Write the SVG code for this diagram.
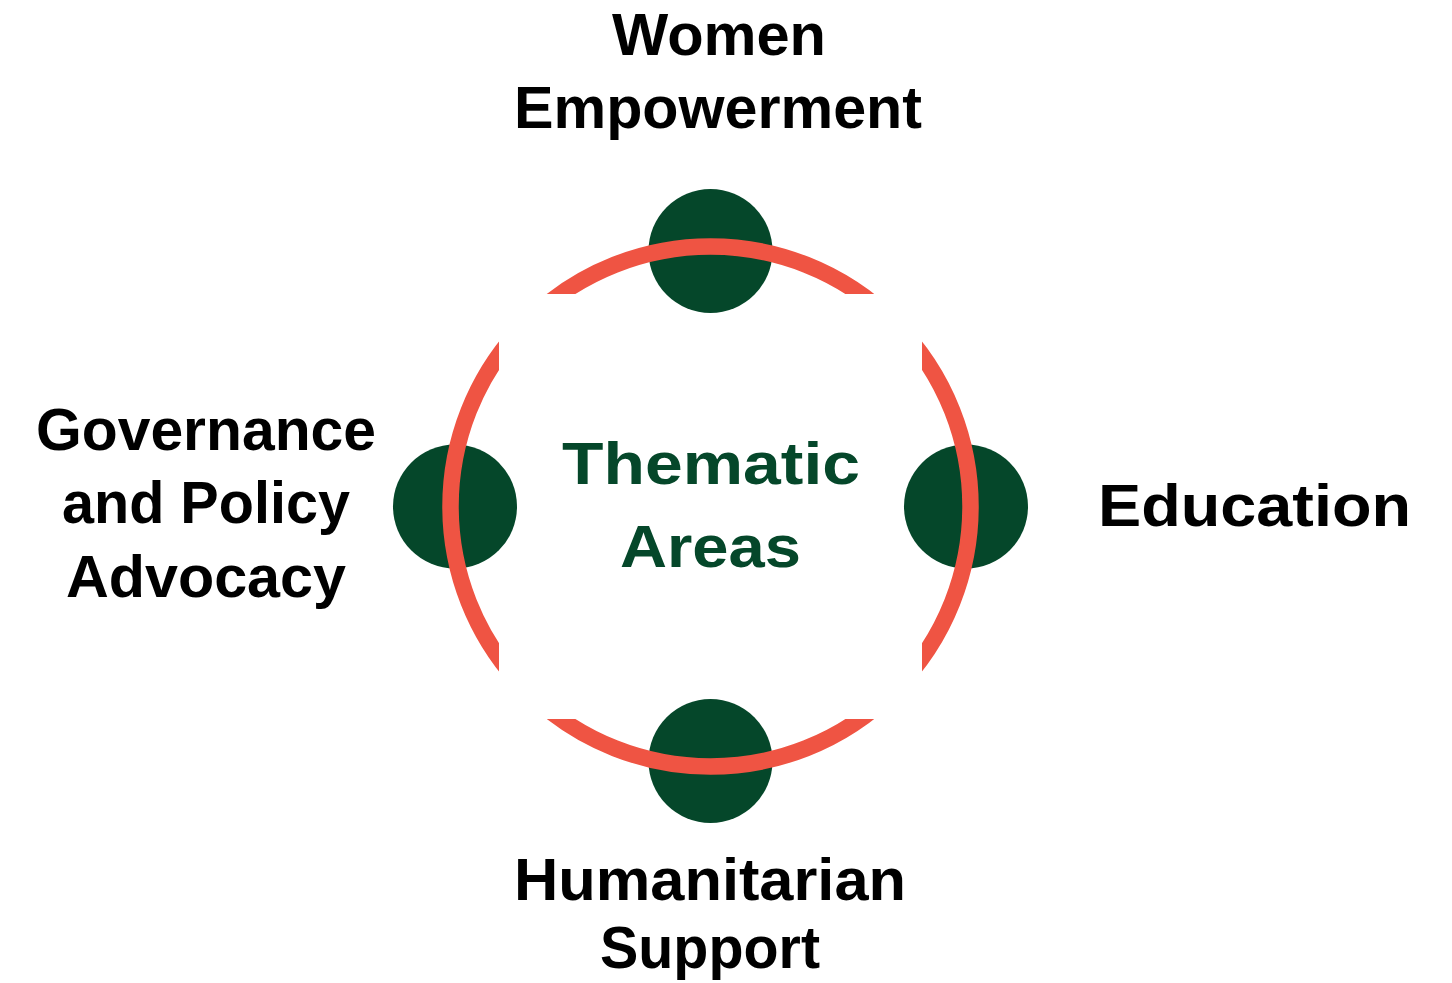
<svg xmlns="http://www.w3.org/2000/svg" width="1452" height="983" viewBox="0 0 1452 983">
  <style>
    .lbl { font-family: "Liberation Sans", Arial, sans-serif; font-weight: 700; font-size: 59px; fill: #000000; }
    .center { font-family: "Liberation Sans", Arial, sans-serif; font-weight: 700; font-size: 60px; fill: #05472A; }
    .dot { fill: #05472A; }
    .ring { fill: none; stroke: #EF5443; stroke-width: 16.5; }
  </style>
  <defs>
    <clipPath id="ringClip">
      <path clip-rule="evenodd" d="M0 0H1452V983H0Z M499 294V719H922V294Z"/>
    </clipPath>
  </defs>
  <rect width="1452" height="983" fill="#ffffff"/>

  <g id="node-top">
    <circle class="dot" cx="710.5" cy="251" r="62"/>
  </g>
  <g id="node-left">
    <circle class="dot" cx="455" cy="506.5" r="62"/>
  </g>
  <g id="node-right">
    <circle class="dot" cx="966" cy="506.5" r="62"/>
  </g>
  <g id="node-bottom">
    <circle class="dot" cx="710.5" cy="761" r="62"/>
  </g>

  <g id="connectors">
    <circle class="ring" cx="710.5" cy="506.5" r="260" clip-path="url(#ringClip)"/>
  </g>

  <g id="label-center">
    <text class="center" x="711" y="484" text-anchor="middle" textLength="298" lengthAdjust="spacingAndGlyphs">Thematic</text>
    <text class="center" x="710.5" y="567" text-anchor="middle" textLength="181" lengthAdjust="spacingAndGlyphs">Areas</text>
  </g>
  <g id="label-top">
    <text class="lbl" x="719" y="55" text-anchor="middle" textLength="214" lengthAdjust="spacingAndGlyphs">Women</text>
    <text class="lbl" x="718" y="128" text-anchor="middle" textLength="408" lengthAdjust="spacingAndGlyphs">Empowerment</text>
  </g>
  <g id="label-left">
    <text class="lbl" x="206" y="450" text-anchor="middle" textLength="340" lengthAdjust="spacingAndGlyphs">Governance</text>
    <text class="lbl" x="206" y="523" text-anchor="middle" textLength="288" lengthAdjust="spacingAndGlyphs">and Policy</text>
    <text class="lbl" x="206" y="597" text-anchor="middle" textLength="280" lengthAdjust="spacingAndGlyphs">Advocacy</text>
  </g>
  <g id="label-right">
    <text class="lbl" x="1254.5" y="526" text-anchor="middle" textLength="313" lengthAdjust="spacingAndGlyphs">Education</text>
  </g>
  <g id="label-bottom">
    <text class="lbl" x="710" y="900" text-anchor="middle" textLength="392" lengthAdjust="spacingAndGlyphs">Humanitarian</text>
    <text class="lbl" x="710" y="968" text-anchor="middle" textLength="220" lengthAdjust="spacingAndGlyphs">Support</text>
  </g>
  <circle cx="1460" cy="991" r="11" fill="#EF5443"/>
</svg>
